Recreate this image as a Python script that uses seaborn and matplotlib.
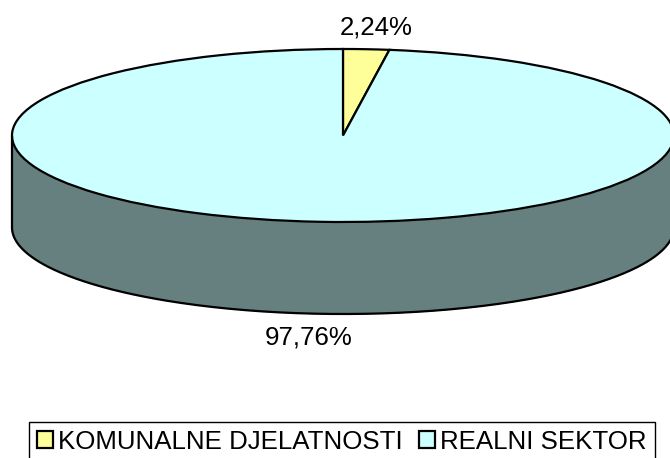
# Flat 3D-looking pie, share of komunalne djelatnosti vs realni sektor
import matplotlib
matplotlib.use('Agg')
import matplotlib.pyplot as plt
from matplotlib.patches import Patch
import seaborn as sns
import numpy as np

categories = ['KOMUNALNE DJELATNOSTI', 'REALNI SEKTOR']
shares = [2.24, 97.76]
share_labels = ['2,24%', '97,76%']

sns.set_theme(style='white')
plt.rcParams['font.family'] = ['Liberation Sans', 'DejaVu Sans']

colors = ['#FFFF99', '#CCFFFF']
wall_color = '#668080'
depth = 92 / 86.5

fig = plt.figure(figsize=(6.7, 4.58), dpi=100)
# axes placed so that radius 1 is the ellipse on the page
ax = fig.add_axes([12 / 670, 1 - 222 / 458, 662 / 670, 173 / 458])

# side wall first, front half of the ellipse only
theta = np.linspace(np.pi, 2 * np.pi, 300)
ax.fill_between(np.cos(theta), np.sin(theta), np.sin(theta) - depth,
                color=wall_color, lw=0, clip_on=False)
ax.plot(np.cos(theta), np.sin(theta) - depth, color='black', lw=1.6, clip_on=False)
ax.plot([-1, -1], [0, -depth], color='black', lw=1.6, clip_on=False)
ax.plot([1, 1], [0, -depth], color='black', lw=1.6, clip_on=False)

wedges, _ = ax.pie(shares, colors=colors, startangle=90, counterclock=False,
                   wedgeprops={'edgecolor': 'black', 'linewidth': 1.6})
for w in wedges:
    w.set_clip_on(False)

ax.set_aspect('auto')
ax.set_xlim(-1, 1)
ax.set_ylim(-1, 1)

fig.text(376 / 670, 1 - 27 / 458, share_labels[0], fontsize=18.6, color='black',
         ha='center', va='center')
fig.text(309 / 670, 1 - 338 / 458, share_labels[1], fontsize=18.6, color='black',
         ha='center', va='center')

handles = [Patch(facecolor=c, edgecolor='black', linewidth=1.6) for c in colors]
leg = fig.legend(handles, categories, loc='upper left',
                 bbox_to_anchor=(29 / 670, 1 - 422 / 458), ncol=2, fontsize=18.6,
                 frameon=True, fancybox=False, edgecolor='black', framealpha=1,
                 borderpad=0.3, handlelength=0.62, handleheight=0.62,
                 handletextpad=0.22, columnspacing=0.6, borderaxespad=0,
                 labelcolor='black')
leg.get_frame().set_linewidth(1)

fig.savefig('out.png', dpi=100)
